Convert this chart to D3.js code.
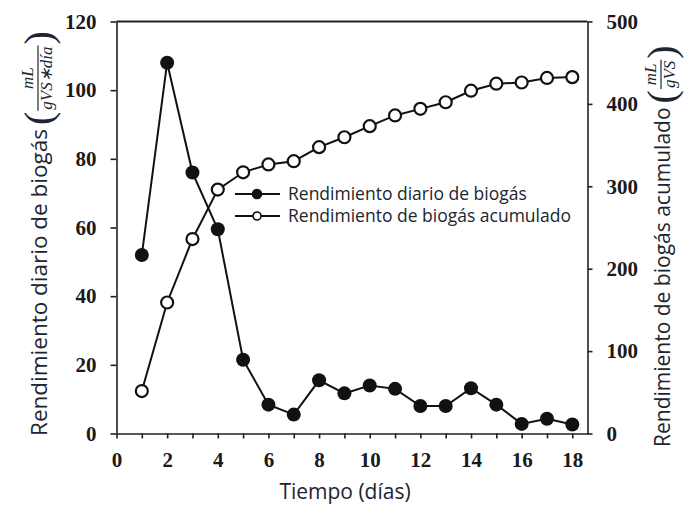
<!DOCTYPE html>
<html>
<head>
<meta charset="utf-8">
<script src="https://cdn.jsdelivr.net/npm/d3@7"></script>
<style>
  html, body { margin: 0; padding: 0; background: #fff; }
  svg { display: block; }
</style>
</head>
<body>
<svg id="chart" width="689" height="507"></svg>
<script>
// ---- data ----
const days = [1, 2, 3, 4, 5, 6, 7, 8, 9, 10, 11, 12, 13, 14, 15, 16, 17, 18];
const dailyYield = [52, 108, 76, 59.5, 21.5, 8.4, 5.5, 15.5, 11.7, 14, 13, 8, 8, 13.2, 8.4, 2.8, 4.3, 2.6];
const cumulativeYield = [51.5, 159, 236, 296, 317, 326.5, 330.5, 347.5, 359.5, 373, 386, 394, 402, 416, 424.5, 426, 431.5, 432.5];
const xTickValues = [0, 1, 2, 3, 4, 5, 6, 7, 8, 9, 10, 11, 12, 13, 14, 15, 16, 17, 18];
const xTickLabels = [0, 2, 4, 6, 8, 10, 12, 14, 16, 18];
const leftTicks = [0, 20, 40, 60, 80, 100, 120];
const rightTicks = [0, 100, 200, 300, 400, 500];
const seriesNames = ["Rendimiento diario de biogás", "Rendimiento de biogás acumulado"];
const xTitle = "Tiempo (días)";
const leftTitle = "Rendimiento diario de biogás";
const rightTitle = "Rendimiento de biogás acumulado";

// ---- layout ----
const svg = d3.select("#chart");
const L = 116.5, R = 587.5, T = 21.5, B = 433.5;
const x = d3.scaleLinear().domain([0, 18.6]).range([L, R]);
const yL = d3.scaleLinear().domain([0, 120]).range([B, T]);
const yR = d3.scaleLinear().domain([0, 500]).range([B, T]);

const tickFont = "'Liberation Serif', 'Times New Roman', serif";
const sansFont = "'Open Sans', 'Noto Sans', sans-serif";
const ink = "#1c2530";

// top border
svg.append("line").attr("x1", L).attr("x2", R).attr("y1", T).attr("y2", T)
  .attr("stroke", "#222").attr("stroke-width", 2);

// x axis
const xAxis = d3.axisBottom(x).tickValues(xTickValues)
  .tickFormat(d => xTickLabels.includes(d) ? d : "")
  .tickSizeInner(5).tickSizeOuter(0).tickPadding(14);
const gx = svg.append("g").attr("transform", `translate(0,${B})`).call(xAxis);

// left axis
const gl = svg.append("g").attr("transform", `translate(${L},0)`)
  .call(d3.axisLeft(yL).tickValues(leftTicks).tickSizeInner(6).tickSizeOuter(0).tickPadding(14));

// right axis
const gr = svg.append("g").attr("transform", `translate(${R},0)`)
  .call(d3.axisRight(yR).tickValues(rightTicks).tickSizeInner(5).tickSizeOuter(0).tickPadding(14));

[gx, gl, gr].forEach(g => {
  g.select(".domain").attr("stroke", "#222").attr("stroke-width", 1.6);
  g.selectAll(".tick line").attr("stroke", "#222").attr("stroke-width", 1.6);
  g.selectAll(".tick text").attr("font-family", tickFont).attr("font-size", 21)
    .attr("font-weight", "bold").attr("fill", "#1a1a1a");
});

// ---- series ----
const lineDaily = d3.line().x((d, i) => x(days[i])).y(d => yL(d));
const lineCum = d3.line().x((d, i) => x(days[i])).y(d => yR(d));

svg.append("path").datum(cumulativeYield).attr("d", lineCum)
  .attr("fill", "none").attr("stroke", "#111").attr("stroke-width", 2);
svg.append("path").datum(dailyYield).attr("d", lineDaily)
  .attr("fill", "none").attr("stroke", "#111").attr("stroke-width", 2);

svg.append("g").selectAll("circle").data(cumulativeYield).join("circle")
  .attr("cx", (d, i) => x(days[i])).attr("cy", d => yR(d)).attr("r", 6)
  .attr("fill", "#fff").attr("stroke", "#111").attr("stroke-width", 2.2);
svg.append("g").selectAll("circle").data(dailyYield).join("circle")
  .attr("cx", (d, i) => x(days[i])).attr("cy", d => yL(d)).attr("r", 7)
  .attr("fill", "#111");

// ---- legend ----
const legend = svg.append("g");
const legY = [194, 216];
seriesNames.forEach((name, i) => {
  const g = legend.append("g").attr("transform", `translate(0,${legY[i]})`);
  g.append("line").attr("x1", 235).attr("x2", 280).attr("stroke", "#111").attr("stroke-width", 2.2);
  g.append("circle").attr("cx", 257).attr("r", i === 0 ? 4.5 : 4)
    .attr("fill", i === 0 ? "#111" : "#fff").attr("stroke", "#111").attr("stroke-width", 1.6);
  g.append("text").attr("x", 288).attr("dy", "0.35em").text(name)
    .attr("font-family", sansFont).attr("font-size", 17.5).attr("fill", ink);
});

// ---- axis titles ----
svg.append("text").attr("x", 345).attr("y", 499).attr("text-anchor", "middle")
  .attr("font-family", sansFont).attr("font-size", 21).attr("fill", ink).text(xTitle);

function unitTitle(tx, ty, title, size, num, den) {
  const g = svg.append("g").attr("transform", `translate(${tx},${ty}) rotate(-90)`);
  const t = g.append("text").attr("x", 0).attr("y", 0)
    .attr("font-family", sansFont).attr("font-size", size).attr("fill", ink).text(title);
  const w = t.node().getComputedTextLength();
  const px = w + 4;
  const open = g.append("text").attr("x", px).attr("y", 5).attr("font-family", tickFont)
    .attr("font-size", 40).attr("fill", ink).text("(");
  const fx = px + open.node().getComputedTextLength() + 1;
  const nt = g.append("text").attr("y", -14).attr("text-anchor", "middle")
    .attr("font-family", tickFont).attr("font-style", "italic").attr("font-size", 17)
    .attr("fill", ink).text(num);
  const dt = g.append("text").attr("y", 5).attr("text-anchor", "middle")
    .attr("font-family", tickFont).attr("font-style", "italic").attr("font-size", 17)
    .attr("fill", ink).text(den);
  const fw = Math.max(nt.node().getComputedTextLength(), dt.node().getComputedTextLength()) + 2;
  const cx = fx + fw / 2;
  nt.attr("x", cx); dt.attr("x", cx);
  g.append("line").attr("x1", fx).attr("x2", fx + fw).attr("y1", -9).attr("y2", -9)
    .attr("stroke", ink).attr("stroke-width", 1.2);
  g.append("text").attr("x", fx + fw + 1).attr("y", 5).attr("font-family", tickFont)
    .attr("font-size", 40).attr("fill", ink).text(")");
}
unitTitle(47, 436, leftTitle, 22.5, "mL", "gVS∗día");
unitTitle(670, 447, rightTitle, 21, "mL", "gVS");
</script>
</body>
</html>
